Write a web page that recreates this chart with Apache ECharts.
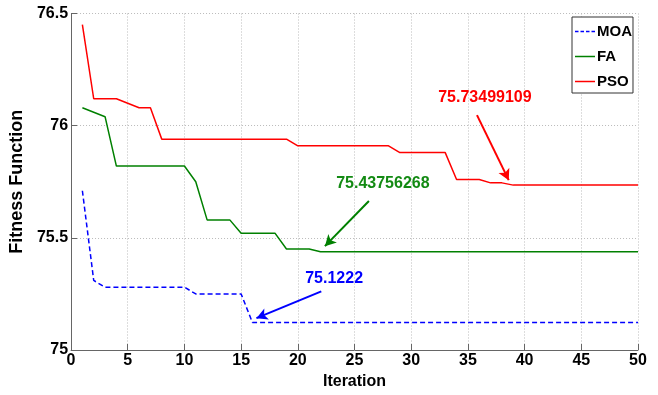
<!DOCTYPE html>
<html>
<head>
<meta charset="utf-8">
<script src="https://cdn.jsdelivr.net/npm/echarts@6/dist/echarts.min.js"></script>
<style>html,body{margin:0;padding:0;background:#fff;}#c{width:658px;height:395px;}</style>
</head>
<body>
<div id="c"></div>
<script>
const iterations = [1,2,3,4,5,6,7,8,9,10,11,12,13,14,15,16,17,18,19,20,21,22,23,24,25,26,27,28,29,30,31,32,33,34,35,36,37,38,39,40,41,42,43,44,45,46,47,48,49,50];
const moa = [75.71,75.31,75.28,75.28,75.28,75.28,75.28,75.28,75.28,75.28,75.25,75.25,75.25,75.25,75.25,75.1222,75.1222,75.1222,75.1222,75.1222,75.1222,75.1222,75.1222,75.1222,75.1222,75.1222,75.1222,75.1222,75.1222,75.1222,75.1222,75.1222,75.1222,75.1222,75.1222,75.1222,75.1222,75.1222,75.1222,75.1222,75.1222,75.1222,75.1222,75.1222,75.1222,75.1222,75.1222,75.1222,75.1222,75.1222];
const fa = [76.08,76.06,76.04,75.82,75.82,75.82,75.82,75.82,75.82,75.82,75.75,75.58,75.58,75.58,75.52,75.52,75.52,75.52,75.45,75.45,75.45,75.43756268,75.43756268,75.43756268,75.43756268,75.43756268,75.43756268,75.43756268,75.43756268,75.43756268,75.43756268,75.43756268,75.43756268,75.43756268,75.43756268,75.43756268,75.43756268,75.43756268,75.43756268,75.43756268,75.43756268,75.43756268,75.43756268,75.43756268,75.43756268,75.43756268,75.43756268,75.43756268,75.43756268,75.43756268];
const pso = [76.45,76.12,76.12,76.12,76.10,76.08,76.08,75.94,75.94,75.94,75.94,75.94,75.94,75.94,75.94,75.94,75.94,75.94,75.94,75.91,75.91,75.91,75.91,75.91,75.91,75.91,75.91,75.91,75.88,75.88,75.88,75.88,75.88,75.76,75.76,75.76,75.745,75.745,75.73499109,75.73499109,75.73499109,75.73499109,75.73499109,75.73499109,75.73499109,75.73499109,75.73499109,75.73499109,75.73499109,75.73499109];
const seriesNames = ['MOA','FA','PSO'];
const xTicks = [0,5,10,15,20,25,30,35,40,45,50];
const yTicks = [75,75.5,76,76.5];

// annotation texts and their anchor points (data space)
const annoText = ['75.1222','75.43756268','75.73499109'];
const annoTextPos = [[23.2,75.318],[27.5,75.742],[36.5,76.127]];
const annoArrowFrom = [[22.07,75.261],[26.27,75.664],[35.8,76.047]];
const annoArrowTo = [[16.35,75.142],[22.39,75.463],[38.6,75.757]];

const colors = ['#0000ff','#008000','#ff0000'];
const textColors = ['#0000ff','#138a13','#ff0000'];
const FONT = 'Liberation Sans, Arial, sans-serif';
const values = [moa, fa, pso];

const solidIcon = 'path://M0,0H20V1.5H0Z';
const dashIcon = 'path://M0,0H3.5V1.5H0Z M5.5,0H9V1.5H5.5Z M11,0H14.5V1.5H11Z M16.5,0H20V1.5H16.5Z';

const chart = echarts.init(document.getElementById('c'), null, {renderer:'canvas'});
const series = seriesNames.map((name, i) => ({
  name: name,
  type: 'line',
  data: iterations.map((x, k) => [x, values[i][k]]),
  symbol: 'none',
  showSymbol: false,
  lineStyle: {color: colors[i], width: 1.5, type: i === 0 ? [5,3] : 'solid'},
  itemStyle: {color: colors[i]},
  z: 3,
  markLine: {
    silent: true,
    symbol: ['none','arrow'],
    symbolSize: [9, 11],
    label: {show: false},
    lineStyle: {color: colors[i], width: 2, type: 'solid'},
    data: [[{coord: annoArrowFrom[i]}, {coord: annoArrowTo[i]}]]
  },
  markPoint: {
    silent: true,
    symbol: 'circle',
    symbolSize: 0,
    label: {show: true, position: 'inside', formatter: annoText[i], color: textColors[i], fontSize: 16, fontWeight: 'bold', fontFamily: FONT},
    data: [{coord: annoTextPos[i]}]
  }
}));

chart.setOption({
  animation: false,
  backgroundColor: '#fff',
  textStyle: {fontFamily: FONT},
  grid: {left: 66, right: 20, top: 13.5, bottom: 45, containLabel: false},
  legend: {
    data: seriesNames.map((n, i) => ({name: n, icon: i === 0 ? dashIcon : solidIcon, itemStyle: {color: colors[i], borderWidth: 0}})),
    orient: 'vertical',
    left: 572,
    top: 17,
    itemWidth: 20,
    itemHeight: 14,
    itemGap: 10,
    symbolKeepAspect: true,
    padding: [7, 1, 4, 3],
    borderColor: '#333',
    borderWidth: 1,
    backgroundColor: '#fff',
    textStyle: {color: '#000', fontSize: 15, fontWeight: 'bold', fontFamily: FONT, padding: [0,0,0,-3]}
  },
  xAxis: {
    type: 'value',
    min: xTicks[0], max: xTicks[xTicks.length-1], interval: 5,
    name: 'Iteration',
    nameLocation: 'middle',
    nameGap: 24,
    nameTextStyle: {color: '#000', fontSize: 16, fontWeight: 'bold', fontFamily: FONT},
    axisLine: {show: true, lineStyle: {color: '#666', width: 1}},
    axisTick: {show: true, inside: true, length: 6, lineStyle: {color: '#666'}},
    axisLabel: {color: '#000', fontSize: 16, fontWeight: 'bold', margin: 3, fontFamily: FONT},
    splitLine: {show: true, lineStyle: {color: '#bbb', type: [1,2], width: 1}}
  },
  yAxis: {
    type: 'value',
    min: yTicks[0], max: yTicks[yTicks.length-1], interval: 0.5,
    name: 'Fitness Function',
    nameLocation: 'middle',
    nameGap: 38,
    nameTextStyle: {color: '#000', fontSize: 18, fontWeight: 'bold', fontFamily: FONT},
    axisLine: {show: true, lineStyle: {color: '#666', width: 1}},
    axisTick: {show: true, inside: true, length: 6, lineStyle: {color: '#666'}},
    axisLabel: {color: '#000', fontSize: 16, fontWeight: 'bold', margin: 3, fontFamily: FONT},
    splitLine: {show: true, lineStyle: {color: '#bbb', type: [1,2], width: 1}}
  },
  series: series
});
</script>
</body>
</html>
